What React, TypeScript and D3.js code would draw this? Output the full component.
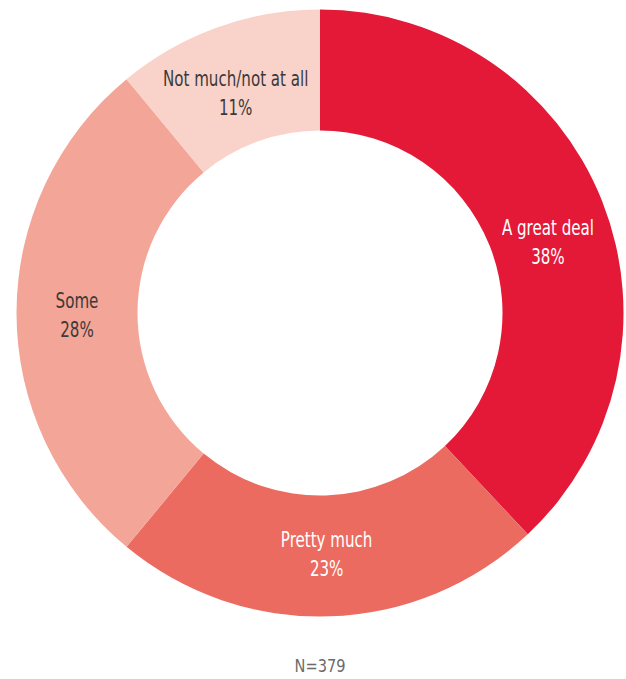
import React from "react";
import * as d3 from "d3";

const categories = ["A great deal", "Pretty much", "Some", "Not much/not at all"];
const values = [38, 23, 28, 11];
const percentLabels = ["38%", "23%", "28%", "11%"];
const colors = ["#E41937", "#EC6B60", "#F3A597", "#F9D2C9"];
const textColors = ["#FFFFFF", "#FFFFFF", "#3A3A3A", "#3A3A3A"];
// small nudges of label centres away from the arc centroid (px)
const labelNudgeX = [2, -1, 0, -2];
const labelNudgeY = [19, -2, 2, 9];
const note = "N=379";

const W = 626;
const H = 679;
const CX = 320;
const CY = 313;
const R_OUT = 303.5;
const R_IN = 182.5;
const FONT = "'DejaVu Sans Condensed', 'Liberation Sans Narrow', sans-serif";
const SQUEEZE = 0.78;

export default function App() {
  const pie = d3
    .pie<number>()
    .sort(null)
    .value((d) => d)
    .startAngle(0)
    .endAngle(2 * Math.PI);
  const arcs = pie(values);
  const arc = d3.arc<d3.PieArcDatum<number>>().innerRadius(R_IN).outerRadius(R_OUT);

  return (
    <svg
      width={W}
      height={H}
      style={{ display: "block", position: "absolute", left: 0, top: 0 }}
    >
      <g transform={`translate(${CX},${CY})`}>
        {arcs.map((a, i) => (
          <path key={i} d={arc(a) || ""} fill={colors[i]} />
        ))}
        {arcs.map((a, i) => {
          const [x, y] = arc.centroid(a);
          const lx = x + labelNudgeX[i];
          const ly = y + labelNudgeY[i];
          return (
            <g key={"l" + i} fontFamily={FONT} fontSize={21.5} fill={textColors[i]} textAnchor="middle">
              <text
                transform={`translate(${lx},${ly - 14.5}) scale(${SQUEEZE},1)`}
                dominantBaseline="central"
              >
                {categories[i]}
              </text>
              <text
                transform={`translate(${lx},${ly + 14.5}) scale(${SQUEEZE},1)`}
                dominantBaseline="central"
              >
                {percentLabels[i]}
              </text>
            </g>
          );
        })}
      </g>
      <text
        transform={`translate(${CX},666) scale(0.9,1)`}
        textAnchor="middle"
        dominantBaseline="central"
        fontFamily={FONT}
        fontSize={18}
        fill="#6b6b6b"
      >
        {note}
      </text>
    </svg>
  );
}
